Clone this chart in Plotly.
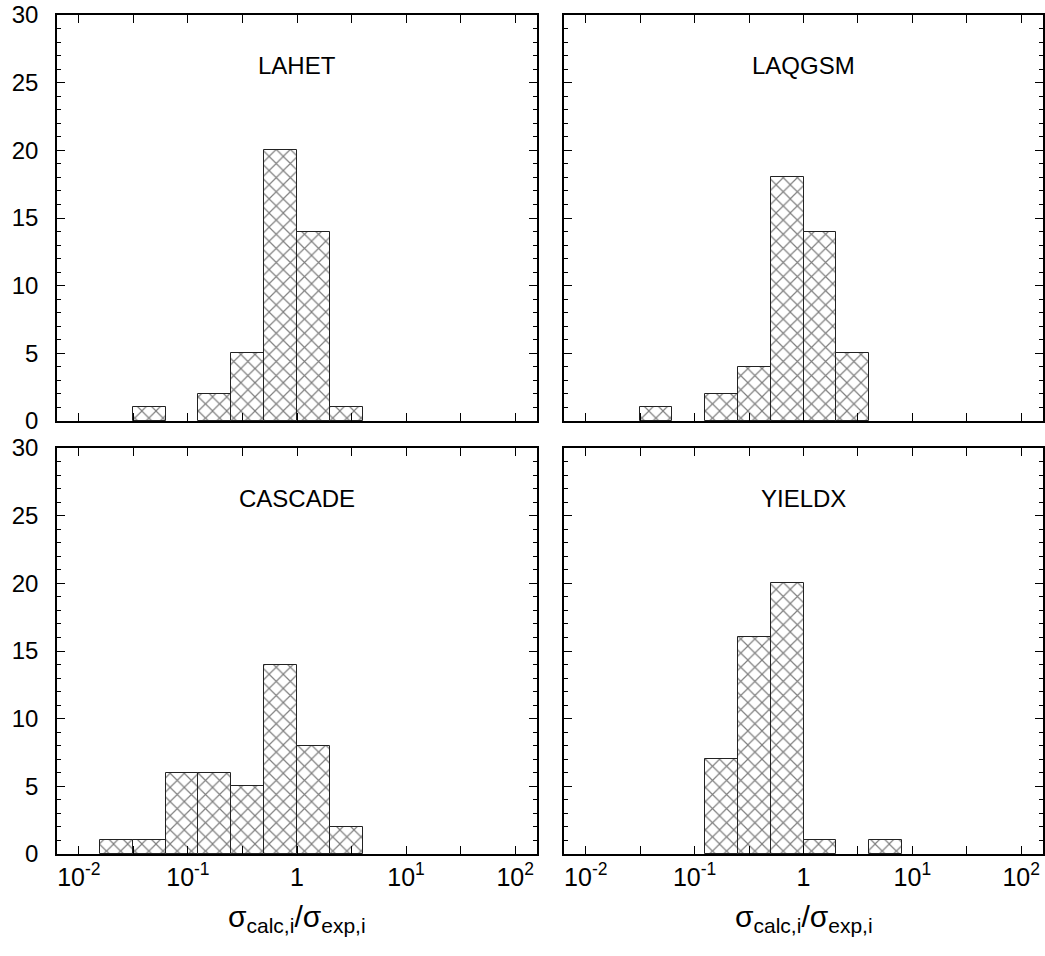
import plotly.graph_objects as go

# Bin lower-edge exponents (bins are [2^k, 2^(k+1)])
bin_exp = [-6, -5, -4, -3, -2, -1, 0, 1, 2]

lahet = [0, 1, 0, 2, 5, 20, 14, 1, 0]
laqgsm = [0, 1, 0, 2, 4, 18, 14, 5, 0]
cascade = [1, 1, 6, 6, 5, 14, 8, 2, 0]
yieldx = [0, 0, 0, 7, 16, 20, 1, 0, 1]

models = ["LAHET", "LAQGSM", "CASCADE", "YIELDX"]
series = [lahet, laqgsm, cascade, yieldx]

x_tickvals = [10 ** (-2 + 0.5 * j) for j in range(9)]
x_ticktext = ["10<sup>-2</sup>", "", "10<sup>-1</sup>", "", "1", "", "10<sup>1</sup>", "", "10<sup>2</sup>"]
y_tickvals = [0, 5, 10, 15, 20, 25, 30]

FONT = "Liberation Sans, Arial, Helvetica, sans-serif"

fig = go.Figure()

W, H = 1045, 956
xdoms = [[57 / W, 537 / W], [564 / W, 1043 / W]]
ydoms = [[1 - 854 / H, 1 - 448 / H], [1 - 421 / H, 1 - 15 / H]]

positions = [(0, 1), (1, 1), (0, 0), (1, 0)]

for i, (name, counts) in enumerate(zip(models, series)):
    col, row = positions[i]
    idx = i + 1
    sfx = str(idx) if idx > 1 else ""
    xs, ws, ys = [], [], []
    for k, c in zip(bin_exp, counts):
        if c > 0:
            lo = 2.0 ** k
            xs.append(lo)
            ws.append(lo)
            ys.append(c)
    fig.add_trace(go.Bar(
        x=xs, y=ys, width=ws, offset=0,
        marker=dict(
            color="white",
            line=dict(color="#222222", width=1),
            pattern=dict(shape="x", fgcolor="black", bgcolor="white", size=10, solidity=0.22),
        ),
        xaxis=f"x{sfx}", yaxis=f"y{sfx}",
        showlegend=False, hoverinfo="skip",
    ))
    fig.layout[f"xaxis{sfx}"] = dict(
        type="log", range=[-2.2, 2.2], domain=xdoms[col],
        anchor=f"y{sfx}",
        tickvals=x_tickvals, ticktext=x_ticktext,
        ticks="inside", ticklen=8, tickwidth=1, tickcolor="black",
        showline=True, linecolor="black", linewidth=1.5, mirror="ticks",
        showgrid=False, zeroline=False,
        showticklabels=(row == 0),
        tickfont=dict(family=FONT, size=25, color="black"),
    )
    fig.layout[f"yaxis{sfx}"] = dict(
        range=[0, 30], domain=ydoms[row],
        anchor=f"x{sfx}",
        tickvals=y_tickvals,
        ticks="inside", ticklen=8, tickwidth=1, tickcolor="black",
        minor=dict(dtick=1, ticks="inside", ticklen=4, tickwidth=1, tickcolor="black", showgrid=False),
        showline=True, linecolor="black", linewidth=1.5, mirror="ticks",
        showgrid=False, zeroline=False,
        showticklabels=(col == 0),
        ticklabelstandoff=12,
        tickfont=dict(family=FONT, size=24, color="black"),
    )
    fig.add_annotation(
        text=name, xref=f"x{sfx} domain", yref=f"y{sfx}", x=0.5, y=26.3,
        showarrow=False, xanchor="center", yanchor="middle",
        font=dict(family=FONT, size=24, color="black"),
    )

for col in range(2):
    sfx = "3" if col == 0 else "4"
    fig.add_annotation(
        text="σ<sub>calc,i</sub>/σ<sub>exp,i</sub>",
        xref=f"x{sfx} domain", yref="paper", x=0.5, y=1 - 918 / H,
        showarrow=False, xanchor="center", yanchor="middle",
        font=dict(family=FONT, size=30, color="black"),
    )

fig.update_layout(
    width=W, height=H,
    margin=dict(l=0, r=0, t=0, b=0, autoexpand=False),
    paper_bgcolor="white", plot_bgcolor="white",
    barmode="overlay", bargap=0,
)

fig.write_html(
    "out.html",
    config={"displayModeBar": False},
    post_script="document.body.style.margin='0';document.body.style.padding='0';",
)
